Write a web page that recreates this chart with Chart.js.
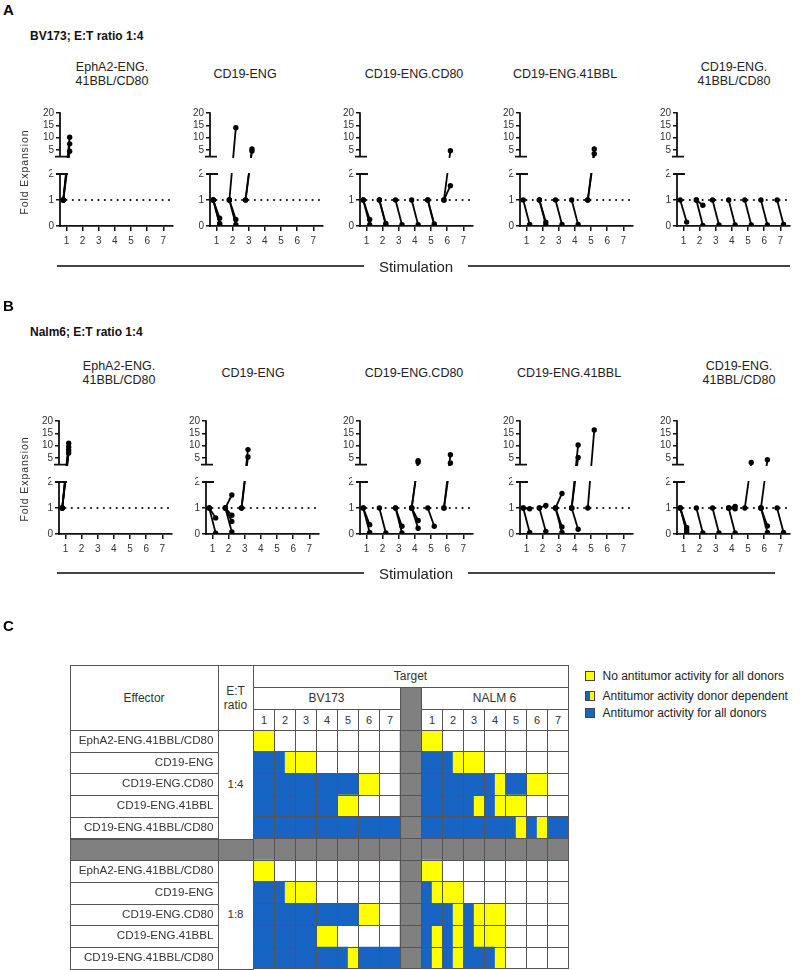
<!DOCTYPE html>
<html><head><meta charset="utf-8">
<script src="https://cdn.jsdelivr.net/npm/chart.js@4.4.1/dist/chart.umd.min.js"></script>
<style>
body{margin:0;background:#fff;font-family:"Liberation Sans",Arial,Helvetica,sans-serif;color:#222}
#root{position:relative;width:800px;height:970px;overflow:hidden;background:#fff}
.t{position:absolute;white-space:nowrap;line-height:1}
.b{position:absolute;box-sizing:border-box}
canvas{position:absolute}
</style></head><body><div id="root"></div>
<script>
// ===================== DATA =====================
const STIM_LABELS = ['1','2','3','4','5','6','7'];
const Y_TICKS = [0, 1, 2, 5, 10, 15, 20];
const PANEL_TITLES = [['EphA2-ENG.','41BBL/CD80'], ['CD19-ENG'], ['CD19-ENG.CD80'], ['CD19-ENG.41BBL'], ['CD19-ENG.','41BBL/CD80']];

// fold expansion per stimulation: [stimulation, [end value per donor]] (each line starts at 1)
const BV173_EPHA2_41BBL_CD80 = [[1, [10.2, 7.5, 4.5]]];
const BV173_CD19_ENG = [[1, [0.3, 0.1, 0.05]], [2, [14, 0.25, 0.05]], [3, [5.4, 4.6]]];
const BV173_CD19_ENG_CD80 = [[1, [0.25, 0.05]], [2, [0.1, 0.03]], [3, [0.05]], [4, [0.05]], [5, [0.08, 0.02]], [6, [1.55, 4.7]]];
const BV173_CD19_ENG_41BBL = [[1, [0.06]], [2, [0.15, 0.05]], [3, [0.06]], [4, [0.06]], [5, [5.4, 3.5]]];
const BV173_CD19_ENG_41BBL_CD80 = [[1, [0.15]], [2, [0.8, 0.02]], [3, [0.04]], [4, [0.04]], [5, [0.04]], [6, [0.04]], [7, [0.06]]];

const NALM6_EPHA2_41BBL_CD80 = [[1, [11, 9.5, 8.2, 7.0]]];
const NALM6_CD19_ENG = [[1, [0.62, 0.03]], [2, [1.5, 0.72, 0.48, 0.08]], [3, [8.4, 5.4]]];
const NALM6_CD19_ENG_CD80 = [[1, [0.36, 0.06]], [2, [0.04]], [3, [0.3, 0.04]], [4, [3.9, 3.3, 0.52, 0.22]], [5, [0.3]], [6, [6.3, 3.0]]];
const NALM6_CD19_ENG_41BBL = [[1, [0.97, 0.06]], [2, [1.1, 0.1]], [3, [1.56, 0.27, 0.06]], [4, [10.3, 5.2, 0.18]], [5, [16.4]]];
const NALM6_CD19_ENG_41BBL_CD80 = [[1, [0.25, 0.15, 0.06]], [2, [0.04]], [3, [0.04]], [4, [1.06, 0.97, 0.04]], [5, [3.2]], [6, [4.3, 0.31, 0.06]], [7, [0.06]]];

// table: 0 = none, 1 = no activity (yellow), 2 = donor dependent (split), 3 = activity all donors (blue)
const EFFECTORS = ['EphA2-ENG.41BBL/CD80', 'CD19-ENG', 'CD19-ENG.CD80', 'CD19-ENG.41BBL', 'CD19-ENG.41BBL/CD80'];
const ET_RATIOS = ['1:4', '1:8'];
const TARGETS = ['BV173', 'NALM 6'];
const BV173_1_4 = [[1,0,0,0,0,0,0],[3,2,1,0,0,0,0],[3,3,3,3,3,1,0],[3,3,3,3,1,0,0],[3,3,3,3,3,3,3]];
const NALM6_1_4 = [[1,0,0,0,0,0,0],[3,2,1,0,0,0,0],[3,3,3,2,3,1,0],[3,3,2,2,1,0,0],[3,3,3,3,2,2,3]];
const BV173_1_8 = [[1,0,0,0,0,0,0],[3,2,1,0,0,0,0],[3,3,3,3,3,1,0],[3,3,3,1,0,0,0],[3,3,3,3,2,3,3]];
const NALM6_1_8 = [[1,0,0,0,0,0,0],[2,1,0,0,0,0,0],[3,2,2,1,0,0,0],[2,2,2,1,0,0,0],[2,2,3,2,0,0,0]];
const LEGEND_LABELS = ['No antitumor activity for all donors', 'Antitumor activity donor dependent', 'Antitumor activity for all donors'];

// ===================== STYLE / LAYOUT =====================
const FONT = '"Liberation Sans", Arial, Helvetica, sans-serif';
Chart.defaults.font.family = FONT;
const BLUE = '#1764c4', YELLOW = '#ffff00', GRAY = '#808080', LINE = '#555';
const root = document.getElementById('root');

// broken y axis geometry (display units: lower segment 1 unit = 26px)
const U_MIN = 2.28, GAP = 0.665, K = 0.0949;
const D_MAX = 2 + GAP + (20 - U_MIN) * K;
function brk(v) {
  if (v <= 2) return v;
  if (v < U_MIN) return 2 + (v - 2) / (U_MIN - 2) * GAP;
  return 2 + GAP + (v - U_MIN) * K;
}
function unbrk(d) {
  if (d <= 2) return d;
  if (d < 2 + GAP) return 2 + (d - 2) / GAP * (U_MIN - 2);
  return U_MIN + (d - 2 - GAP) / K;
}
const LS = Chart.LinearScale;
class BrokenScale extends LS {
  getPixelForValue(v) { return (v === null || v === undefined || isNaN(v)) ? NaN : this.getPixelForDecimal(brk(v) / D_MAX); }
  getValueForPixel(p) { return unbrk(this.getDecimalForPixel(p) * D_MAX); }
}
BrokenScale.id = 'broken';
BrokenScale.defaults = LS.defaults;
Chart.register(BrokenScale);

const brokenAxis = {
  id: 'brokenAxis',
  afterDatasetsDraw(chart) {
    const { ctx, chartArea: a, scales: { y } } = chart;
    const p2 = y.getPixelForValue(2), pu = y.getPixelForValue(U_MIN);
    ctx.save();
    ctx.fillStyle = '#fff';
    ctx.fillRect(a.left - 8, pu + 1.3, a.right - a.left + 16, p2 - pu - 2.3);
    ctx.restore();
  },
  afterDraw(chart) {
    const { ctx, chartArea: a, scales: { y } } = chart;
    const L = a.left;
    const p0 = y.getPixelForValue(0), p2 = y.getPixelForValue(2), pu = y.getPixelForValue(U_MIN), p20 = y.getPixelForValue(20);
    ctx.save();
    ctx.strokeStyle = '#111'; ctx.lineWidth = 1.8; ctx.lineCap = 'butt';
    ctx.beginPath();
    ctx.moveTo(L, p0 + 0.9); ctx.lineTo(L, p2);
    ctx.moveTo(L, pu); ctx.lineTo(L, p20 - 0.7);
    ctx.moveTo(L - 4, p2); ctx.lineTo(L + 8, p2);
    ctx.moveTo(L - 5, pu); ctx.lineTo(L + 7, pu);
    ctx.stroke();
    ctx.restore();
  }
};

const X_MIN = 0.6, X_MAX = 7.6, REF = 1, PLOT_W = 113;
function txt(text, x, y, o = {}) {
  const d = document.createElement('div');
  d.className = 't'; d.textContent = text;
  d.style.fontSize = (o.size || 12) + 'px';
  d.style.fontWeight = o.weight || 'normal';
  d.style.color = o.color || '#222';
  if (o.ls) d.style.letterSpacing = o.ls + 'px';
  d.style.left = x + 'px'; d.style.top = y + 'px';
  const tx = o.align === 'left' ? '0' : o.align === 'right' ? '-100%' : '-50%';
  d.style.transform = `translate(${tx},-50%)` + (o.rot ? ` rotate(${o.rot}deg)` : '');
  root.appendChild(d);
  return d;
}
function box(x1, y1, x2, y2, bg, border) {
  const d = document.createElement('div');
  d.className = 'b';
  d.style.left = x1 + 'px'; d.style.top = y1 + 'px';
  d.style.width = (x2 - x1) + 'px'; d.style.height = (y2 - y1) + 'px';
  if (bg) d.style.background = bg;
  if (border !== false) d.style.border = '1px solid ' + (border || LINE);
  root.appendChild(d);
  return d;
}

function panel(axisX, topPx, series) {
  const c = document.createElement('canvas');
  const W = 40 + PLOT_W + 8, H = 150;
  c.width = W; c.height = H;
  c.style.left = (axisX - 40) + 'px'; c.style.top = (topPx - 10) + 'px';
  root.appendChild(c);
  const datasets = [{
    data: [{ x: X_MIN, y: REF }, { x: X_MAX, y: REF }],
    borderColor: '#111', borderWidth: 2.2, borderDash: [0.01, 6.4], borderCapStyle: 'round', pointRadius: 0
  }];
  series.forEach(([s, vals]) => vals.forEach(v => datasets.push({
    data: [{ x: s - 0.2, y: REF }, { x: s + 0.2, y: v }],
    borderColor: '#000', borderWidth: 1.8, pointRadius: 2.7, pointBackgroundColor: '#000', pointBorderWidth: 0
  })));
  new Chart(c, {
    type: 'line',
    data: { datasets },
    options: {
      responsive: false, animation: false, devicePixelRatio: 1,
      layout: { padding: { top: 10, right: 8, left: 0, bottom: 0 } },
      plugins: { legend: { display: false }, tooltip: { enabled: false } },
      scales: {
        x: {
          type: 'linear', min: X_MIN, max: X_MAX,
          afterBuildTicks: s => { s.ticks = STIM_LABELS.map((l, i) => ({ value: i + 1 })); },
          ticks: { callback: v => STIM_LABELS[v - 1], autoSkip: false, maxRotation: 0, padding: 4, color: '#333', font: { size: 10 } },
          grid: { drawOnChartArea: false, tickLength: 5, color: '#111', lineWidth: 1.5 },
          border: { display: true, color: '#111', width: 1.8 },
          afterFit: s => { s.height = 27; }
        },
        y: {
          type: 'broken', min: 0, max: 20,
          afterBuildTicks: s => { s.ticks = Y_TICKS.map(v => ({ value: v })); },
          ticks: { autoSkip: false, padding: 2, color: '#333', font: { size: 10 } },
          grid: { drawOnChartArea: false, tickLength: 4, color: '#111', lineWidth: 1.5 },
          border: { display: false },
          afterFit: s => { s.width = 40; }
        }
      }
    },
    plugins: [brokenAxis]
  });
}

// ===================== PANELS A & B =====================
const ROW_A_SERIES = [BV173_EPHA2_41BBL_CD80, BV173_CD19_ENG, BV173_CD19_ENG_CD80, BV173_CD19_ENG_41BBL, BV173_CD19_ENG_41BBL_CD80];
const ROW_B_SERIES = [NALM6_EPHA2_41BBL_CD80, NALM6_CD19_ENG, NALM6_CD19_ENG_CD80, NALM6_CD19_ENG_41BBL, NALM6_CD19_ENG_41BBL_CD80];
const ROWS = [
  { letter: 'A', ly: 9, sub: 'BV173; E:T ratio 1:4', sy: 36, top: 113, axes: [60, 210, 360, 520, 677],
    tx: [112, 245, 414, 565, 734], t2: [67, 81], t1: 74, series: ROW_A_SERIES, fy: 172, stimY: 266, rEnd: 790 },
  { letter: 'B', ly: 305, sub: 'Nalm6; E:T ratio 1:4', sy: 332, top: 420.5, axes: [59, 206, 360, 520, 677],
    tx: [119, 253, 414, 569, 739], t2: [366, 380], t1: 373, series: ROW_B_SERIES, fy: 479, stimY: 573, rEnd: 775 }
];
ROWS.forEach(r => {
  txt(r.letter, 3, r.ly, { size: 15, weight: 'bold', align: 'left', color: '#000' });
  txt(r.sub, 30, r.sy, { size: 12, weight: 'bold', align: 'left', color: '#111' });
  PANEL_TITLES.forEach((t, i) => {
    if (t.length === 2) { txt(t[0], r.tx[i], r.t2[0], { size: 12.5 }); txt(t[1], r.tx[i], r.t2[1], { size: 12.5 }); }
    else txt(t[0], r.tx[i], r.t1, { size: 12.5 });
  });
  r.axes.forEach((ax, i) => panel(ax, r.top, r.series[i]));
  txt('Fold Expansion', 24, r.fy, { size: 10.5, ls: 0.9, rot: -90, color: '#333' });
  box(57, r.stimY - 1, 364, r.stimY + 1, '#444', false);
  box(468, r.stimY - 1, r.rEnd, r.stimY + 1, '#444', false);
  txt('Stimulation', 416, r.stimY, { size: 15, color: '#222' });
});

// ===================== PANEL C: TABLE =====================
txt('C', 3, 625, { size: 15, weight: 'bold', align: 'left', color: '#000' });
const TL = 70, EFF_R = 218, ET_R = 253, COLW = 21, NCOL = 15, TR = ET_R + COLW * NCOL;
const TOP = 665, H1 = 687, H2 = 708.5, GT = 730, RH = 21.7;
const GRID_ROWS = [];
const ROW_LABELS = [];
[[BV173_1_4, NALM6_1_4], [BV173_1_8, NALM6_1_8]].forEach(([bv, na], bi) => {
  if (bi > 0) { GRID_ROWS.push(new Array(NCOL).fill(4)); ROW_LABELS.push(''); }
  EFFECTORS.forEach((e, r) => { GRID_ROWS.push([...bv[r], 4, ...na[r]]); ROW_LABELS.push(e); });
});
const GB = GT + RH * GRID_ROWS.length;

// header boxes
box(TL, TOP, EFF_R + 1, GT + 1);
txt('Effector', (TL + EFF_R) / 2, (TOP + GT) / 2, { size: 12, color: '#333' });
box(EFF_R, TOP, ET_R + 1, GT + 1);
txt('E:T', (EFF_R + ET_R) / 2, 691, { size: 12, color: '#333' });
txt('ratio', (EFF_R + ET_R) / 2, 705, { size: 12, color: '#333' });
box(ET_R, TOP, TR + 1, H1 + 1);
txt('Target', (ET_R + TR) / 2, (TOP + H1) / 2, { size: 12, color: '#333' });
const GC_L = ET_R + 7 * COLW, GC_R = GC_L + COLW;
box(ET_R, H1, GC_L + 1, H2 + 1);
txt(TARGETS[0], (ET_R + GC_L) / 2, (H1 + H2) / 2, { size: 12, color: '#333' });
box(GC_R, H1, TR + 1, H2 + 1);
txt(TARGETS[1], (GC_R + TR) / 2, (H1 + H2) / 2, { size: 12, color: '#333' });
box(GC_L, H1, GC_R + 1, GT + 1, GRAY);
for (let c = 0; c < NCOL; c++) {
  if (c === 7) continue;
  const x = ET_R + c * COLW;
  box(x, H2, x + COLW + 1, GT + 1);
  txt(STIM_LABELS[c < 7 ? c : c - 8], x + COLW / 2 + 0.5, (H2 + GT) / 2 + 0.5, { size: 11, color: '#333' });
}
// effector & E:T cells
GRID_ROWS.forEach((row, r) => {
  const y = GT + r * RH;
  box(TL, y, EFF_R + 1, y + RH + 1, ROW_LABELS[r] === '' ? GRAY : null);
});
const blockH = RH * 5;
box(EFF_R, GT, ET_R + 1, GT + blockH + 1);
txt(ET_RATIOS[0], (EFF_R + ET_R) / 2, GT + blockH / 2, { size: 11.6, color: '#333' });
box(EFF_R, GT + blockH, ET_R + 1, GT + blockH + RH + 1, GRAY);
box(EFF_R, GT + blockH + RH, ET_R + 1, GB + 1);
txt(ET_RATIOS[1], (EFF_R + ET_R) / 2, GT + blockH + RH + blockH / 2, { size: 11.6, color: '#333' });

// colored grid via Chart.js floating horizontal bars
const CODE_COLOR = { 1: YELLOW, 2: BLUE, 3: BLUE, 4: GRAY };
const gridDatasets = [];
for (let c = 0; c < NCOL; c++) {
  gridDatasets.push({
    data: GRID_ROWS.map(row => row[c] === 0 ? null : row[c] === 2 ? [c, c + 0.5] : [c, c + 1]),
    backgroundColor: GRID_ROWS.map(row => CODE_COLOR[row[c]] || '#fff')
  });
  gridDatasets.push({
    data: GRID_ROWS.map(row => row[c] === 2 ? [c + 0.5, c + 1] : null),
    backgroundColor: YELLOW
  });
}
const gridOnTop = {
  id: 'gridOnTop',
  afterDatasetsDraw(chart) {
    const a = chart.chartArea;
    chart.scales.x.drawGrid(a);
    chart.scales.y.drawGrid(a);
    chart.scales.x.drawBorder();
    chart.scales.y.drawBorder();
  }
};
const gc = document.createElement('canvas');
const GW = (TR - TL) + 2, GH = (GB - GT) + 4;
gc.width = GW; gc.height = Math.round(GH);
gc.style.left = TL + 'px'; gc.style.top = (GT - 2) + 'px';
root.appendChild(gc);
new Chart(gc, {
  type: 'bar',
  data: { labels: ROW_LABELS, datasets: gridDatasets },
  options: {
    indexAxis: 'y', responsive: false, animation: false, devicePixelRatio: 1,
    layout: { padding: { top: 2, right: 2, left: 0, bottom: Math.round(GH) - 2 - (GB - GT) } },
    plugins: { legend: { display: false }, tooltip: { enabled: false } },
    datasets: { bar: { barPercentage: 1, categoryPercentage: 1, grouped: false, borderWidth: 0 } },
    scales: {
      x: {
        type: 'linear', position: 'top', min: 0, max: NCOL,
        ticks: { display: false, stepSize: 1 },
        grid: { drawTicks: false, color: LINE, lineWidth: 1 },
        border: { display: true, color: LINE, width: 1 },
        afterFit: s => { s.height = 0; s.paddingLeft = 0; s.paddingRight = 0; }
      },
      y: {
        type: 'category', offset: true,
        grid: { offset: true, drawTicks: false, color: LINE, lineWidth: 1 },
        border: { display: true, color: LINE, width: 1 },
        ticks: { padding: 39.5, color: '#333', font: { size: 11.6 }, autoSkip: false },
        afterFit: s => { s.width = ET_R - TL; s.paddingTop = 0; s.paddingBottom = 0; }
      }
    }
  },
  plugins: [gridOnTop]
});

// legend
const LEG_Y = [676, 695.5, 713];
LEGEND_LABELS.forEach((l, i) => {
  const y = LEG_Y[i];
  if (i === 1) {
    box(585, y - 5, 590, y + 5, BLUE, '#444').style.borderRight = 'none';
    box(590, y - 5, 595, y + 5, YELLOW, '#444').style.borderLeft = 'none';
  } else {
    box(585, y - 5, 595, y + 5, i === 0 ? YELLOW : BLUE, '#444');
  }
  txt(l, 602.5, y, { size: 12, align: 'left', color: '#222' });
});
</script></body></html>
